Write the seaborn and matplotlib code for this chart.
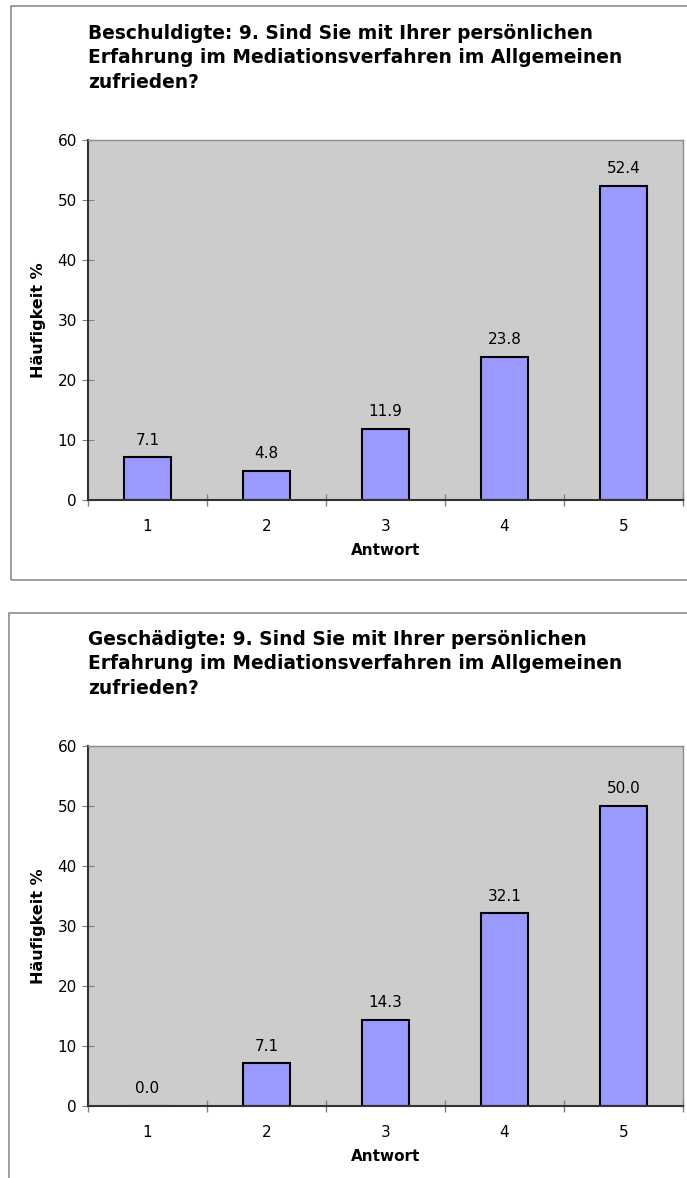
import matplotlib
matplotlib.use('Agg')
import matplotlib.pyplot as plt
import seaborn as sns
from matplotlib.patches import Rectangle

# Data
answers = ['1', '2', '3', '4', '5']
beschuldigte = [7.1, 4.8, 11.9, 23.8, 52.4]
geschaedigte = [0.0, 7.1, 14.3, 32.1, 50.0]
titles = [
    'Beschuldigte: 9. Sind Sie mit Ihrer persönlichen\nErfahrung im Mediationsverfahren im Allgemeinen\nzufrieden?',
    'Geschädigte: 9. Sind Sie mit Ihrer persönlichen\nErfahrung im Mediationsverfahren im Allgemeinen\nzufrieden?',
]

sns.set_style('white')
plt.rcParams['font.family'] = ['DejaVu Sans']
plt.rcParams['text.color'] = 'black'
plt.rcParams['axes.labelcolor'] = 'black'
plt.rcParams['xtick.color'] = 'black'
plt.rcParams['ytick.color'] = 'black'

W, H = 687, 1178
fig = plt.figure(figsize=(W / 100, H / 100), dpi=100)


def fx(px):
    return px / W


def fy(py):
    return 1 - py / H


# Panel frames
for (x0, y0, x1, y1) in [(11, 6, 700, 580), (9, 613, 700, 1190)]:
    fig.add_artist(Rectangle((fx(x0), fy(y1)), fx(x1 - x0), (y1 - y0) / H,
                             transform=fig.transFigure, fill=False,
                             edgecolor='#8c8c8c', linewidth=1.2))

panels = [(beschuldigte, 140, 500, 24), (geschaedigte, 746, 1106, 630)]

for (values, top, bottom, title_y), title in zip(panels, titles):
    ax = fig.add_axes([fx(88), fy(bottom), fx(683 - 88), (bottom - top) / H])
    ax.set_facecolor('#cccccc')
    sns.barplot(x=answers, y=values, color='#9999ff', edgecolor='black',
                linewidth=1.5, width=0.4, saturation=1, ax=ax)
    ax.set_xlim(-0.5, 4.5)
    ax.set_ylim(0, 60)
    ax.set_yticks(range(0, 61, 10))
    ax.tick_params(axis='y', left=True, direction='inout', length=8,
                   color='#808080', labelcolor='black', labelsize=11, pad=4)
    ax.tick_params(axis='x', which='major', length=0, labelsize=11, pad=14)
    ax.set_xticks([i - 0.5 for i in range(6)], minor=True)
    ax.tick_params(axis='x', which='minor', bottom=True, direction='inout',
                   length=8, width=1, color='#808080')
    for side in ['top', 'right']:
        ax.spines[side].set_color('#8c8c8c')
        ax.spines[side].set_linewidth(1.0)
    for side in ['left', 'bottom']:
        ax.spines[side].set_color('#333333')
        ax.spines[side].set_linewidth(1.5)
    ax.bar_label(ax.containers[0], fmt='%.1f', padding=7, fontsize=11)
    ax.set_xlabel('Antwort', fontsize=11, fontweight='bold', labelpad=6)
    ax.set_ylabel('Häufigkeit %', fontsize=11.5, fontweight='bold', labelpad=8)
    fig.text(fx(88), fy(title_y), title, ha='left', va='top', fontsize=13.4,
             fontweight='bold', linespacing=1.35)

fig.savefig('out.png', dpi=100)
